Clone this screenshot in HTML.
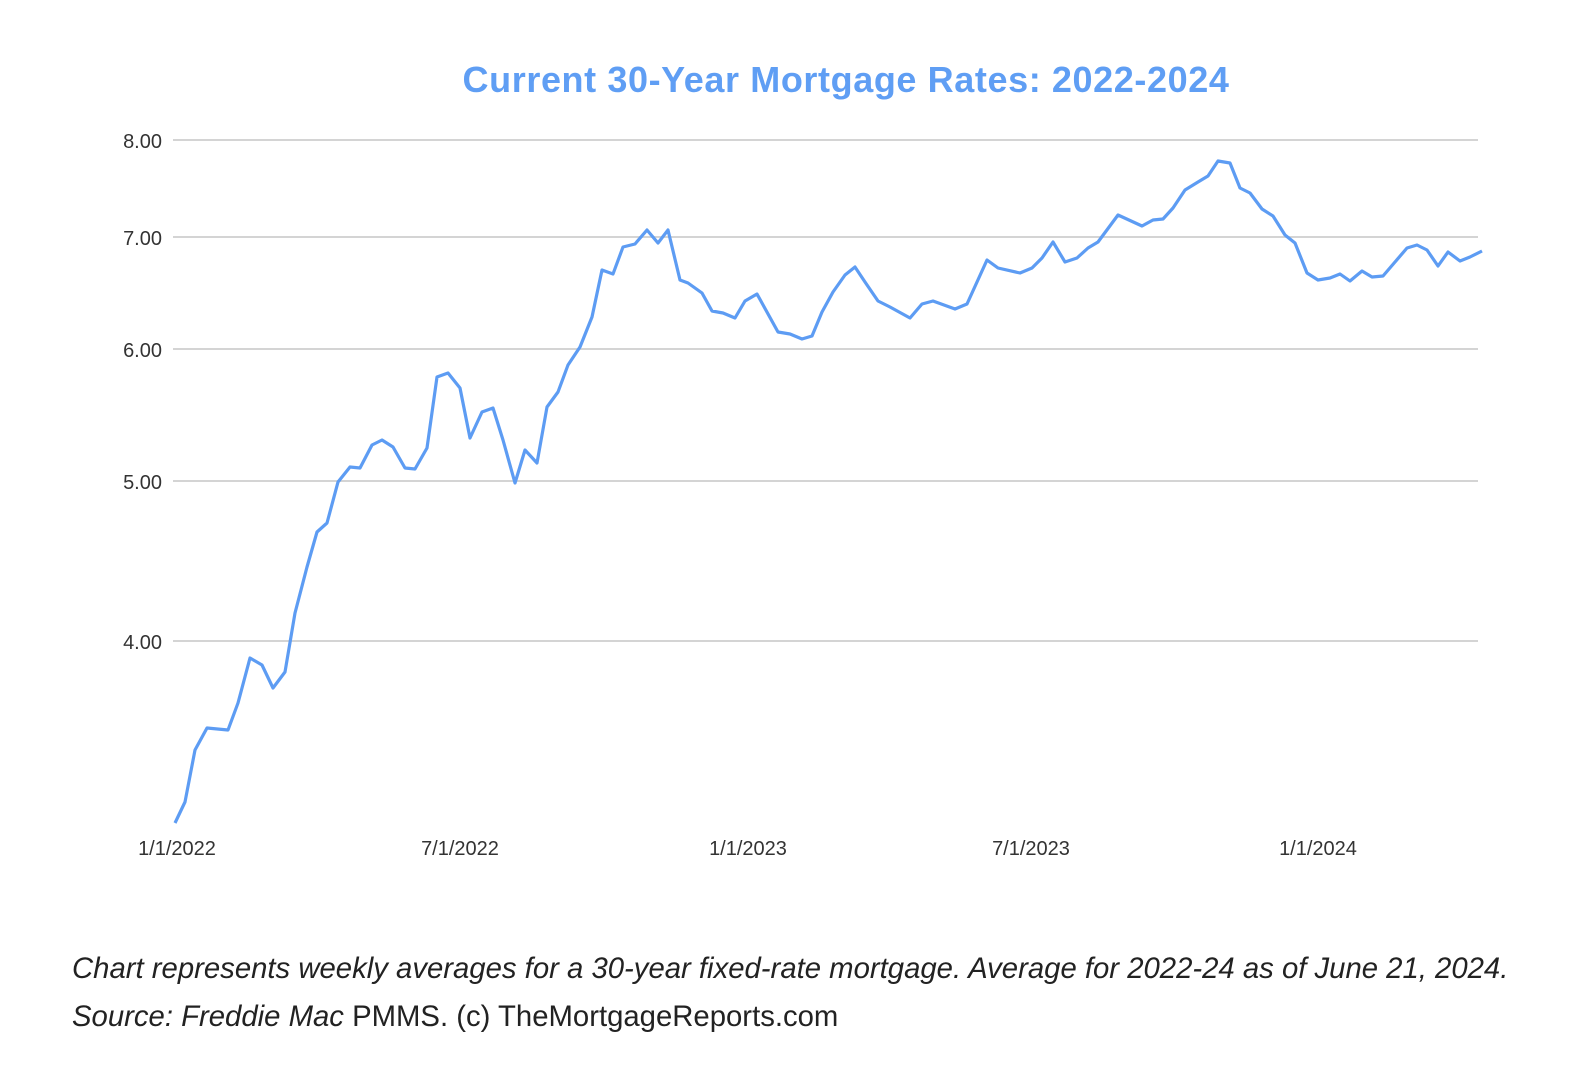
<!DOCTYPE html>
<html><head><meta charset="utf-8"><style>
html,body{margin:0;padding:0;background:#fff;}
body{width:1574px;height:1066px;position:relative;overflow:hidden;font-family:"Liberation Sans",sans-serif;}
.cap{position:absolute;left:72px;font-size:29.3px;color:#222;white-space:nowrap;}
</style></head><body>
<svg width="1574" height="1066" viewBox="0 0 1574 1066" style="position:absolute;left:0;top:0">
<text x="846" y="92" text-anchor="middle" font-family="Liberation Sans" font-weight="bold" font-size="36" letter-spacing="0.6" fill="#5f9ef4">Current 30-Year Mortgage Rates: 2022-2024</text>
<g stroke="#d4d4d4" stroke-width="2">
<line x1="173" x2="1478" y1="140" y2="140"/>
<line x1="173" x2="1478" y1="237" y2="237"/>
<line x1="173" x2="1478" y1="349" y2="349"/>
<line x1="173" x2="1478" y1="481" y2="481"/>
<line x1="173" x2="1478" y1="641" y2="641"/>
</g>
<g font-family="Liberation Sans" font-size="20" fill="#333" text-anchor="end">
<text x="162" y="148">8.00</text>
<text x="162" y="245">7.00</text>
<text x="162" y="357">6.00</text>
<text x="162" y="489">5.00</text>
<text x="162" y="649">4.00</text>
</g>
<g font-family="Liberation Sans" font-size="20" fill="#333" text-anchor="middle">
<text x="177" y="855">1/1/2022</text>
<text x="460" y="855">7/1/2022</text>
<text x="748" y="855">1/1/2023</text>
<text x="1031" y="855">7/1/2023</text>
<text x="1318" y="855">1/1/2024</text>
</g>
<polyline fill="none" stroke="#5d9cf3" stroke-width="3.2" stroke-linejoin="round" points="175,823 185,802 195,750 207,728 228,730 238,703 250,658 262,665 273,688 285,672 295,613 307,567 317,532 327,523 338,482 350,467 360,468 372,445 382,440 393,447 405,468 415,469 427,448 437,377 448,373 460,388 470,438 482,412 493,408 503,440 515,483 525,450 537,463 547,407 558,392 568,365 580,347 592,317 602,270 613,274 623,247 635,244 647,230 658,243 668,230 680,280 688,283 702,293 712,311 723,313 735,318 745,301 757,294 778,332 790,334 802,339 812,336 822,312 833,292 845,275 855,267 865,282 878,301 890,307 910,318 922,304 933,301 955,309 967,304 987,260 998,268 1020,273 1032,268 1042,258 1053,242 1065,262 1077,258 1088,248 1098,242 1118,215 1142,226 1153,220 1163,219 1173,208 1185,190 1198,182 1208,176 1218,161 1230,163 1240,188 1250,193 1262,209 1273,216 1285,235 1295,243 1307,273 1318,280 1330,278 1340,274 1350,281 1362,271 1372,277 1383,276 1395,262 1407,248 1417,245 1427,250 1438,266 1448,252 1460,261 1470,257 1482,251"/>
</svg>
<div class="cap" style="top:952px;font-style:italic">Chart represents weekly averages for a 30-year fixed-rate mortgage. Average for 2022-24 as of June 21, 2024.</div>
<div class="cap" style="top:1000px"><i>Source: Freddie Mac</i> PMMS. (c) TheMortgageReports.com</div>
</body></html>
